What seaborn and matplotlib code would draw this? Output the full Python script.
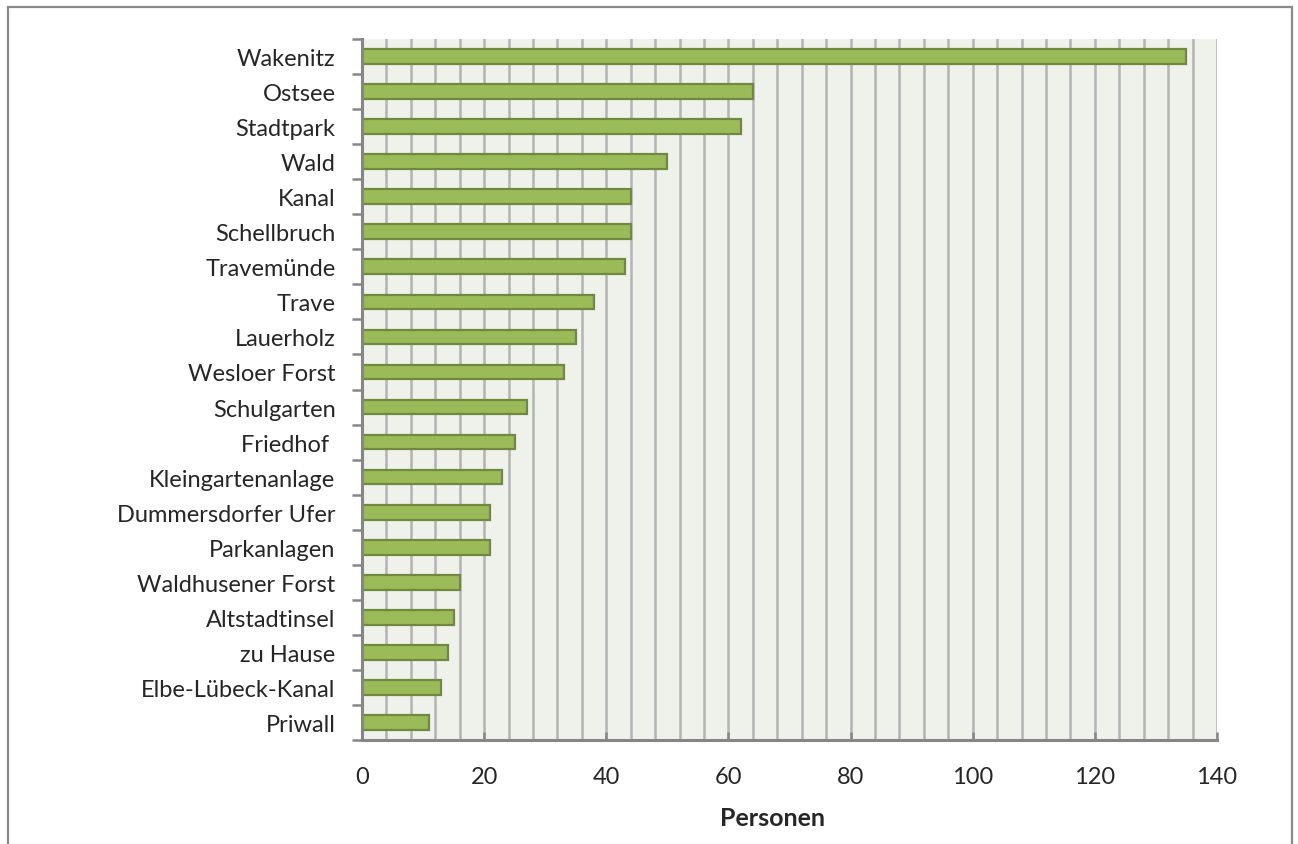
import numpy as np
import pandas as pd
import matplotlib.pyplot as plt
import seaborn as sns
from matplotlib.patches import Rectangle
from matplotlib.ticker import MultipleLocator


# =========================================================
# DATA
# =========================================================

places = [
    "Wakenitz", "Ostsee", "Stadtpark", "Wald", "Kanal", "Schellbruch",
    "Travemünde", "Trave", "Lauerholz", "Wesloer Forst", "Schulgarten",
    "Friedhof ", "Kleingartenanlage", "Dummersdorfer Ufer", "Parkanlagen",
    "Waldhusener Forst", "Altstadtinsel", "zu Hause", "Elbe-Lübeck-Kanal",
    "Priwall",
]

persons = [135, 64, 62, 50, 44, 44, 43, 38, 35, 33, 27, 25, 23, 21, 21,
           16, 15, 14, 13, 11]

x_ticks = [0, 20, 40, 60, 80, 100, 120, 140]

df = pd.DataFrame({"Ort": places, "Personen": persons})


# =========================================================
# STYLE
# =========================================================

sns.set_style("white")
plt.rcParams["font.family"] = ["Lato", "DejaVu Sans"]

bar_color = "#9BBB59"
edge_color = "#71893F"
grid_color = "#B4B4B4"
bg_color = "#EFF2EA"
spine_color = "#868686"


# =========================================================
# PLOT
# =========================================================

fig = plt.figure(figsize=(12.98, 8.45), dpi=100)
ax = fig.add_axes([362 / 1298, 1 - 741 / 845, 855 / 1298, 701 / 845])

ax.set_facecolor(bg_color)

sns.barplot(
    data=df,
    x="Personen",
    y="Ort",
    orient="h",
    color=bar_color,
    edgecolor=edge_color,
    linewidth=1.6,
    width=0.42,
    saturation=1,
    ax=ax,
)

ax.set_xlim(0, 140)
ax.set_ylim(len(places) - 0.5, -0.5)

ax.xaxis.set_minor_locator(MultipleLocator(4))
ax.set_xticks(x_ticks)
ax.set_xticklabels([str(t) for t in x_ticks], fontsize=17)

ax.grid(axis="x", which="both", color=grid_color, linewidth=1.8)
ax.set_axisbelow(True)

# category boundaries as tick marks on the y axis
ax.set_yticks(np.arange(len(places)))
ax.set_yticklabels(places, fontsize=17)
ax.set_yticks(np.arange(len(places) + 1) - 0.5, minor=True)
ax.tick_params(axis="y", which="major", left=False, length=0, pad=19)
ax.tick_params(axis="y", which="minor", left=True, length=7, width=1.8,
               color=spine_color, direction="out")
ax.tick_params(axis="x", which="major", bottom=True, length=6, width=1.8,
               color=spine_color, direction="in", pad=19)
ax.tick_params(axis="x", which="minor", bottom=False, length=0)

for side in ["top", "right"]:
    ax.spines[side].set_visible(False)
for side in ["left", "bottom"]:
    ax.spines[side].set_color(spine_color)
    ax.spines[side].set_linewidth(2.2)

ax.set_ylabel("")
ax.set_xlabel("Personen", fontsize=18, fontweight="bold")
ax.xaxis.set_label_coords((773 - 362) / 855, -66 / 701)

# outer chart border (open at the bottom)
border = Rectangle(
    (8 / 1298, -0.05),
    1284 / 1298,
    (837 / 845) + 0.05,
    transform=fig.transFigure,
    facecolor="none",
    edgecolor="#8A8A8A",
    linewidth=1.6,
)
fig.patches.append(border)

fig.savefig("out.png", dpi=100)
